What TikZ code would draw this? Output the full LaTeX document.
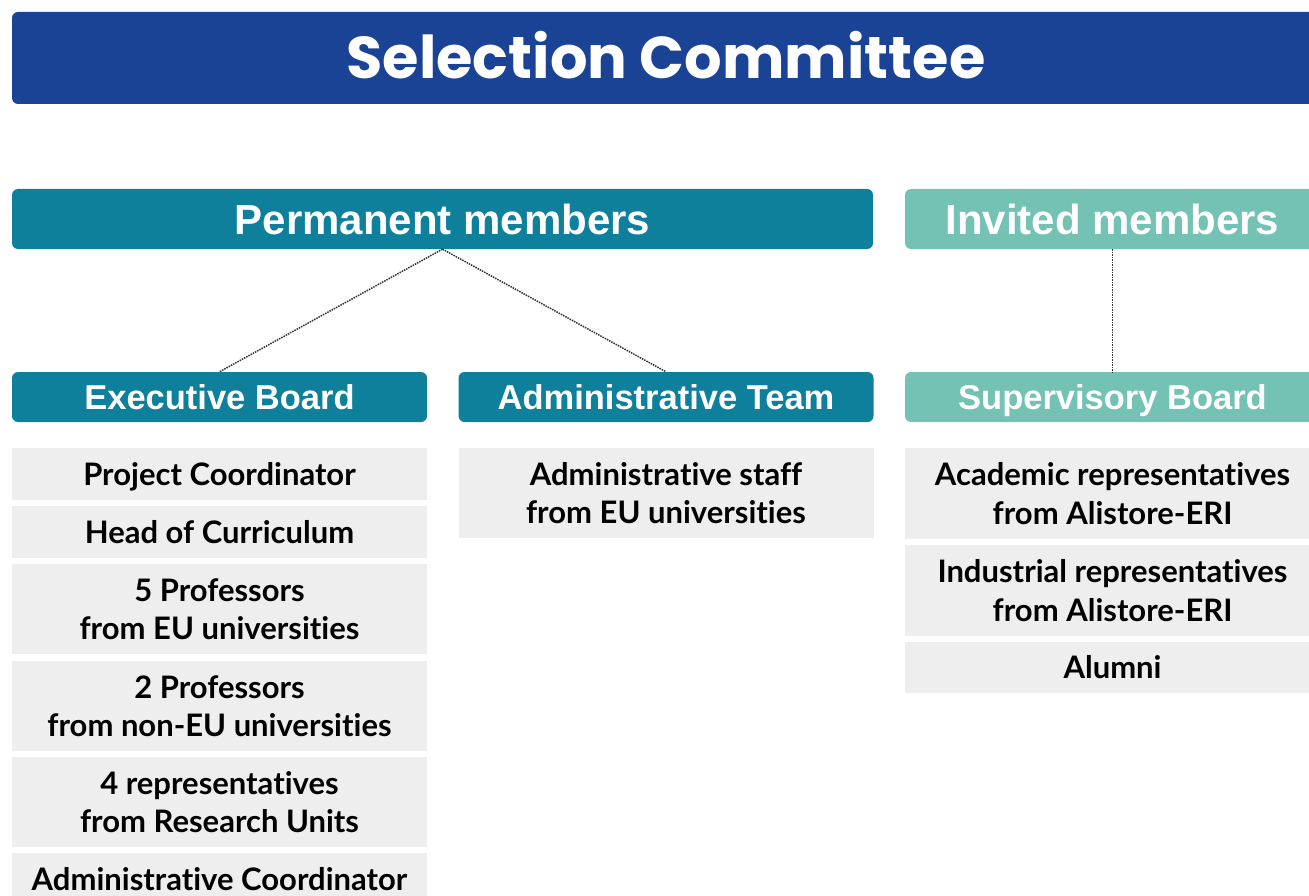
\documentclass[tikz,border=0pt]{standalone}
\usepackage{fontspec}
\setmainfont{Liberation Sans}
\newfontfamily\titlefont{Poppins}
\newfontfamily\itemfont{Lato}[Ligatures={NoCommon}]
\definecolor{navy}{HTML}{1A4395}
\definecolor{petrol}{HTML}{0E809B}
\definecolor{mint}{HTML}{73C2B4}
\definecolor{paper}{HTML}{EEEEEE}
\tikzset{
  titlebar/.style={fill=navy, text=white, rounded corners=6pt, minimum width=1308pt, minimum height=92pt, inner sep=0pt, text height=42pt, text depth=0pt, font=\titlefont\bfseries\fontsize{59}{64}\selectfont},
  headbar/.style={fill=#1, text=white, rounded corners=6pt, minimum height=60pt, inner sep=0pt, text height=30pt, text depth=0pt, font=\bfseries\fontsize{42}{46}\selectfont},
  subbar/.style={fill=#1, text=white, rounded corners=6pt, minimum width=415pt, minimum height=50pt, inner sep=0pt, text height=25pt, text depth=0pt, font=\bfseries\fontsize{34.5}{38}\selectfont},
  itembox/.style={fill=paper, minimum width=415pt, minimum height=#1, inner sep=0pt, font=\itemfont\bfseries\fontsize{31}{38.5}\selectfont},
  oneline/.style={itembox=#1, text height=22pt, text depth=0pt},
  twoline/.style={itembox=#1, align=center},
  link/.style={densely dotted, line width=1.5pt, draw=black!80}
}
\begin{document}
\begin{tikzpicture}[x=1pt, y=-1pt]
  \useasboundingbox (0,0) rectangle (1309,896);
  \clip (0,0) rectangle (1309,896);
  \node[titlebar] (sc) at (666,58) {Selection Committee};
  \node[headbar=petrol, minimum width=861pt] (pm) at (442.5,219) {Permanent members};
  \node[headbar=mint, minimum width=415pt] (im) at (1112.5,219) {Invited members};
  \node[subbar=petrol] (eb) at (219.5,397) {Executive Board};
  \node[subbar=petrol] (at) at (666,397) {Administrative Team};
  \node[subbar=mint] (sb) at (1112.5,397) {Supervisory Board};
  \node[oneline=52pt] (e1) at (219.5,474) {Project Coordinator};
  \node[oneline=52pt] (e2) at (219.5,532) {Head of Curriculum};
  \node[twoline=90pt] (e3) at (219.5,609) {5 Professors\\from EU universities};
  \node[twoline=90pt] (e4) at (219.5,706) {2 Professors\\from non-EU universities};
  \node[twoline=90pt] (e5) at (219.5,802) {4 representatives\\from Research Units};
  \node[oneline=53pt] (e6) at (219.5,879.5) {Administrative Coordinator};
  \node[twoline=90pt] (a1) at (666,493) {Administrative staff\\from EU universities};
  \node[twoline=91pt] (s1) at (1112.5,493.5) {Academic representatives\\from Alistore-ERI};
  \node[twoline=91pt] (s2) at (1112.5,590.5) {Industrial representatives\\from Alistore-ERI};
  \node[oneline=51pt] (s3) at (1112.5,667.5) {Alumni};
  \draw[link] (pm.south) -- (eb.north);
  \draw[link] (pm.south) -- (at.north);
  \draw[link] (im.south) -- (sb.north);
\end{tikzpicture}
\end{document}
